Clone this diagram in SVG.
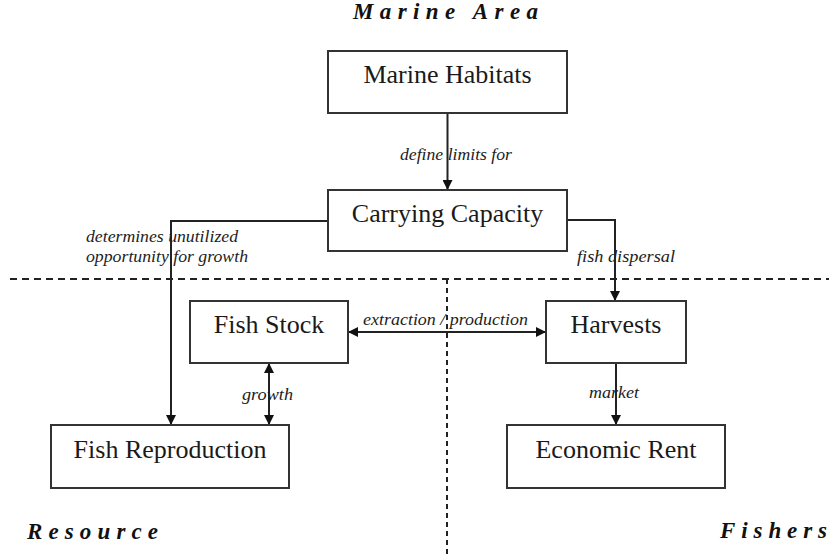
<svg xmlns="http://www.w3.org/2000/svg" width="829" height="556" viewBox="0 0 829 556">
<defs>
<marker id="ah" viewBox="0 0 10 10" refX="10" refY="5" markerWidth="10" markerHeight="10" markerUnits="userSpaceOnUse" orient="auto-start-reverse">
<path d="M0,0 L10,5 L0,10 Z" fill="#111"/>
</marker>
</defs>
<style>
.box{fill:#fff;stroke:#333;stroke-width:2}
.bt{font-family:"Liberation Serif","Times New Roman",serif;font-size:26px;fill:#1a1a1a;text-anchor:middle}
.lbl{font-family:"Liberation Serif","Times New Roman",serif;font-size:17px;font-style:italic;fill:#222}
.ttl{font-family:"Liberation Serif","Times New Roman",serif;font-size:23px;font-style:italic;font-weight:bold;fill:#111}
.ln{fill:none;stroke:#222;stroke-width:2}
.dash{fill:none;stroke:#222;stroke-width:2;stroke-dasharray:7 5}
</style>
<rect width="829" height="556" fill="#fff"/>
<g id="regions">
<line class="dash" x1="10" y1="279" x2="829" y2="279"/>
<line class="dash" x1="447" y1="279" x2="447" y2="556" style="stroke-dasharray:5 4"/>
<text class="ttl" x="353" y="19" textLength="185" lengthAdjust="spacing">Marine Area</text>
<text class="ttl" x="27" y="539" textLength="131" lengthAdjust="spacing">Resource</text>
<text class="ttl" x="720" y="538" textLength="107" lengthAdjust="spacing">Fishers</text>
</g>
<g id="connectors">
<line class="ln" x1="447.5" y1="113" x2="447.5" y2="190" marker-end="url(#ah)"/>
<polyline class="ln" points="567,220 615,220 615,301" marker-end="url(#ah)"/>
<polyline class="ln" points="328,221 171,221 171,425" marker-end="url(#ah)"/>
<line class="ln" x1="348" y1="332" x2="546" y2="332" marker-start="url(#ah)" marker-end="url(#ah)"/>
<line class="ln" x1="269" y1="363" x2="269" y2="425" marker-start="url(#ah)" marker-end="url(#ah)"/>
<line class="ln" x1="616" y1="363" x2="616" y2="425" marker-end="url(#ah)"/>
<text class="lbl" x="400" y="160" textLength="112" lengthAdjust="spacingAndGlyphs">define limits for</text>
<text class="lbl" x="577" y="262" textLength="98" lengthAdjust="spacingAndGlyphs">fish dispersal</text>
<text class="lbl" x="86" y="242" textLength="152" lengthAdjust="spacingAndGlyphs">determines unutilized</text>
<text class="lbl" x="86" y="262" textLength="162" lengthAdjust="spacingAndGlyphs">opportunity for growth</text>
<text class="lbl" x="363" y="325" textLength="165" lengthAdjust="spacingAndGlyphs">extraction / production</text>
<text class="lbl" x="242" y="400" textLength="51" lengthAdjust="spacingAndGlyphs">growth</text>
<text class="lbl" x="589" y="398" textLength="50" lengthAdjust="spacingAndGlyphs">market</text>
</g>
<g id="marine-habitats"><rect class="box" x="328" y="51" width="239" height="62"/><text class="bt" x="447.5" y="83">Marine Habitats</text></g>
<g id="carrying-capacity"><rect class="box" x="328" y="190" width="239" height="61"/><text class="bt" x="447.5" y="222">Carrying Capacity</text></g>
<g id="fish-stock"><rect class="box" x="190" y="301" width="158" height="62"/><text class="bt" x="269" y="333">Fish Stock</text></g>
<g id="harvests"><rect class="box" x="546" y="301" width="140" height="62"/><text class="bt" x="616" y="333">Harvests</text></g>
<g id="fish-reproduction"><rect class="box" x="51" y="425" width="238" height="63"/><text class="bt" x="170" y="458">Fish Reproduction</text></g>
<g id="economic-rent"><rect class="box" x="507" y="425" width="218" height="63"/><text class="bt" x="616" y="458">Economic Rent</text></g>
</svg>
